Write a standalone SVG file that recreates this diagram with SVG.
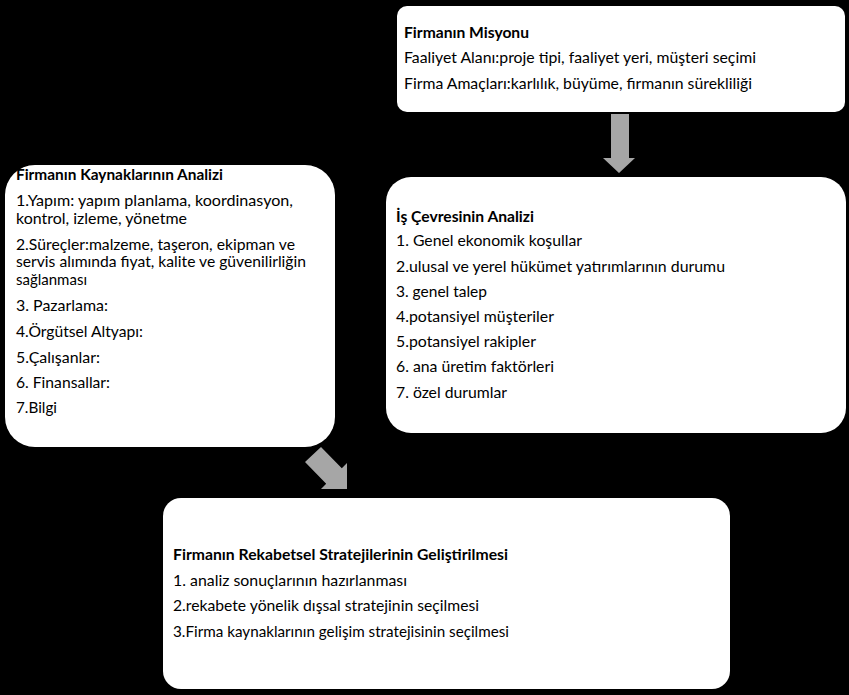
<svg xmlns="http://www.w3.org/2000/svg" width="849" height="695" viewBox="0 0 849 695">
<style>
.box{fill:#ffffff;stroke:none}
.t{font-family:Lato,"Open Sans","Liberation Sans",sans-serif;font-size:15px;fill:#000}
.b{font-weight:bold}
.arr{fill:#a6a6a6;stroke:none}
</style>
<rect x="0" y="0" width="849" height="695" fill="#000"/>
<g id="connectors">
<polygon class="arr" points="611,114 629,114 629,158 635,158 619,173 603,158 611,158"/>
<polygon class="arr" points="305,462 321,447 341.8,468.2 347,463 347,489 321,489 326.2,483.8"/>
</g>
<g id="misyon">
<rect class="box" x="397" y="6" width="448" height="106" rx="10"/>
<text class="t b" x="404" y="38" textLength="125" lengthAdjust="spacingAndGlyphs">Firmanın Misyonu</text>
<text class="t" x="404" y="63" textLength="352" lengthAdjust="spacingAndGlyphs">Faaliyet Alanı:proje tipi, faaliyet yeri, müşteri seçimi</text>
<text class="t" x="404" y="89" textLength="348" lengthAdjust="spacingAndGlyphs">Firma Amaçları:karlılık, büyüme, firmanın sürekliliği</text>
</g>
<g id="kaynaklar">
<rect class="box" x="5" y="165" width="330" height="282" rx="30"/>
<text class="t b" x="16" y="180" textLength="207" lengthAdjust="spacingAndGlyphs">Firmanın Kaynaklarının  Analizi</text>
<text class="t" x="16" y="206" textLength="277" lengthAdjust="spacingAndGlyphs">1.Yapım: yapım planlama, koordinasyon,</text>
<text class="t" x="16" y="224" textLength="171" lengthAdjust="spacingAndGlyphs">kontrol, izleme, yönetme</text>
<text class="t" x="16" y="250" textLength="279" lengthAdjust="spacingAndGlyphs">2.Süreçler:malzeme, taşeron, ekipman ve</text>
<text class="t" x="16" y="267" textLength="290" lengthAdjust="spacingAndGlyphs">servis alımında fiyat, kalite ve güvenilirliğin</text>
<text class="t" x="16" y="285">sağlanması</text>
<text class="t" x="16" y="311" textLength="92" lengthAdjust="spacingAndGlyphs">3. Pazarlama:</text>
<text class="t" x="16" y="337" textLength="127" lengthAdjust="spacingAndGlyphs">4.Örgütsel Altyapı:</text>
<text class="t" x="16" y="363" textLength="84" lengthAdjust="spacingAndGlyphs">5.Çalışanlar:</text>
<text class="t" x="16" y="388" textLength="94" lengthAdjust="spacingAndGlyphs">6. Finansallar:</text>
<text class="t" x="16" y="413" textLength="41" lengthAdjust="spacingAndGlyphs">7.Bilgi</text>
</g>
<g id="cevre">
<rect class="box" x="386" y="177" width="460" height="256" rx="25"/>
<text class="t b" x="396" y="222" textLength="138" lengthAdjust="spacingAndGlyphs">İş Çevresinin Analizi</text>
<text class="t" x="396" y="246" textLength="186" lengthAdjust="spacingAndGlyphs">1. Genel ekonomik koşullar</text>
<text class="t" x="396" y="272" textLength="329" lengthAdjust="spacingAndGlyphs">2.ulusal ve yerel hükümet yatırımlarının durumu</text>
<text class="t" x="396" y="297" textLength="91" lengthAdjust="spacingAndGlyphs">3. genel talep</text>
<text class="t" x="396" y="322" textLength="158" lengthAdjust="spacingAndGlyphs">4.potansiyel müşteriler</text>
<text class="t" x="396" y="347" textLength="140" lengthAdjust="spacingAndGlyphs">5.potansiyel rakipler</text>
<text class="t" x="396" y="372" textLength="158" lengthAdjust="spacingAndGlyphs">6. ana üretim faktörleri</text>
<text class="t" x="396" y="398" textLength="111" lengthAdjust="spacingAndGlyphs">7. özel durumlar</text>
</g>
<g id="strateji">
<rect class="box" x="163" y="498" width="567" height="191" rx="18"/>
<text class="t b" x="173" y="560" textLength="335" lengthAdjust="spacingAndGlyphs">Firmanın Rekabetsel Stratejilerinin Geliştirilmesi</text>
<text class="t" x="173" y="586" textLength="234" lengthAdjust="spacingAndGlyphs">1. analiz sonuçlarının hazırlanması</text>
<text class="t" x="173" y="611" textLength="306" lengthAdjust="spacingAndGlyphs">2.rekabete yönelik dışsal stratejinin seçilmesi</text>
<text class="t" x="173" y="637" textLength="336" lengthAdjust="spacingAndGlyphs">3.Firma kaynaklarının gelişim stratejisinin seçilmesi</text>
</g>
</svg>
